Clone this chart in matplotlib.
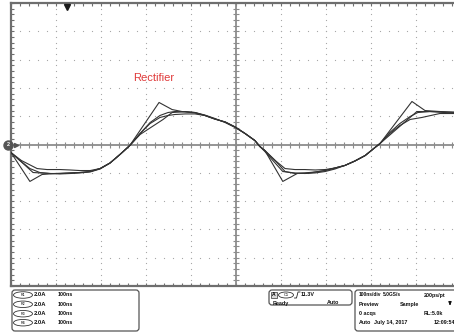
import numpy as np
import matplotlib
matplotlib.use("Agg")
import matplotlib.pyplot as plt
from matplotlib.patches import FancyBboxPatch, Ellipse, Rectangle

# --- reference waveforms R1..R4 (time in ns, current in A), 100ns/div, 2.0A/div ---
r1_t = [-500, -458, -431, -402, -369, -347, -324, -302, -280, -258, -236, -171, -142, -120,
        -91, -69, -47, -24, -2, 20, 42, 53, 64, 104, 136, 164, 198, 220, 242, 264, 287,
        309, 320, 391, 420, 453, 500]
r1_i = [-0.57, -2.61, -2.12, -2.05, -2.01, -1.98, -1.91, -1.70, -1.31, -0.71, -0.07, 2.97,
        2.47, 2.33, 2.26, 2.05, 1.80, 1.59, 1.24, 0.78, 0.28, -0.14, -0.42, -2.61, -2.05,
        -2.01, -1.84, -1.66, -1.48, -1.17, -0.78, -0.21, 0.07, 3.04, 2.40, 2.33, 2.26]

r2_t = [-500, -477, -442, -420, -391, -369, -347, -324, -302, -280, -258, -236, -213, -191,
        -169, -151, -136, -113, -91, -69, -47, -24, -2, 20, 42, 53, 64, 87, 109, 131, 153,
        176, 198, 220, 242, 264, 287, 309, 320, 342, 364, 387, 413, 453, 500]
r2_i = [-0.57, -1.13, -1.70, -1.77, -1.77, -1.80, -1.84, -1.84, -1.70, -1.31, -0.71, -0.07,
        0.78, 1.48, 1.91, 2.05, 2.12, 2.16, 2.16, 2.05, 1.80, 1.59, 1.24, 0.78, 0.28, -0.14,
        -0.42, -1.13, -1.70, -1.77, -1.77, -1.80, -1.77, -1.66, -1.48, -1.17, -0.78, -0.21,
        0.07, 0.78, 1.34, 1.77, 1.91, 2.19, 2.19]

r3_t = [-500, -451, -413, -391, -369, -347, -324, -302, -280, -258, -236, -213, -162, -142,
        -113, -91, -69, -47, -24, -2, 20, 42, 53, 64, 104, 131, 153, 176, 198, 220, 242,
        264, 287, 309, 320, 402, 431, 464, 500]
r3_i = [-0.57, -1.98, -2.05, -2.08, -2.05, -2.01, -1.94, -1.73, -1.31, -0.71, -0.07, 0.71,
        1.77, 2.26, 2.33, 2.26, 2.08, 1.84, 1.55, 1.20, 0.78, 0.28, -0.14, -0.49, -1.91,
        -2.01, -2.05, -2.01, -1.91, -1.73, -1.48, -1.17, -0.78, -0.21, 0.07, 2.33, 2.33,
        2.30, 2.26]

r4_t = [-500, -480, -458, -436, -413, -391, -369, -347, -324, -302, -280, -258, -236, -213,
        -191, -169, -151, -136, -113, -91, -69, -47, -24, -2, 20, 42, 53, 64, 87, 109, 131,
        153, 176, 198, 220, 242, 264, 287, 309, 320, 342, 364, 387, 404, 431, 464, 500]
r4_i = [-0.57, -1.13, -1.70, -1.98, -2.05, -2.05, -2.01, -1.98, -1.91, -1.70, -1.31, -0.71,
        -0.07, 0.78, 1.55, 2.05, 2.26, 2.33, 2.30, 2.23, 2.05, 1.80, 1.59, 1.24, 0.78, 0.28,
        -0.14, -0.42, -1.13, -1.91, -2.05, -2.01, -1.94, -1.84, -1.66, -1.48, -1.17, -0.78,
        -0.21, 0.07, 0.85, 1.48, 1.98, 2.26, 2.33, 2.26, 2.19]

ref_labels = ["R1", "R2", "R3", "R4"]
ref_scale = ["2.0A", "2.0A", "2.0A", "2.0A"]
ref_time = ["100ns", "100ns", "100ns", "100ns"]
trigger_pos = -376   # ns, marker at top of screen
title = "Rectifier"

FONT = "Liberation Sans"
GRID = "#a8a8a8"
EDGE = "#6e6e6e"
TRACE = "#333333"

fig = plt.figure(figsize=(4.54, 3.32), dpi=100)
fig.patch.set_facecolor("white")

# graticule: 10 x 10 divisions, right edge runs past the picture
ax = fig.add_axes([11 / 454, 1 - 286 / 332, 450 / 454, 283 / 332])
ax.set_xlim(-500, 500)
ax.set_ylim(-10, 10)
ax.set_facecolor("white")
for side in ["left", "top", "bottom"]:
    ax.spines[side].set_color(EDGE)
    ax.spines[side].set_linewidth(1.6)
ax.spines["right"].set_visible(False)
ax.set_xticks(np.arange(-500, 501, 20))
ax.set_yticks(np.arange(-10, 10.01, 0.4))
ax.tick_params(direction="in", length=2.5, width=0.8, color=EDGE,
               top=True, bottom=True, left=True, right=False,
               labelbottom=False, labelleft=False)

# dotted grid
minor_x = np.arange(-500, 501, 20)
minor_y = np.arange(-10, 10.01, 0.4)
for gx in range(-400, 401, 100):
    if gx != 0:
        ax.plot(np.full(len(minor_y), gx), minor_y, ls="none", marker="s", ms=0.8,
                mew=0, color=GRID, zorder=1)
for gy in range(-8, 9, 2):
    if gy != 0:
        ax.plot(minor_x, np.full(len(minor_x), gy), ls="none", marker="s", ms=0.8,
                mew=0, color=GRID, zorder=1)

# centre cross with tick marks
ax.axhline(0, color="#8c8c8c", lw=1.3, zorder=2)
ax.axvline(0, color="#8c8c8c", lw=1.3, zorder=2)
ax.plot(minor_x, np.zeros(len(minor_x)), ls="none", marker="|", ms=4, mew=0.8,
        color="#8c8c8c", zorder=2)
ax.plot(np.zeros(len(minor_y)), minor_y, ls="none", marker="_", ms=4, mew=0.8,
        color="#8c8c8c", zorder=2)

# traces
for t, i in [(r1_t, r1_i), (r2_t, r2_i), (r3_t, r3_i), (r4_t, r4_i)]:
    ax.plot(t, i, color=TRACE, lw=0.8, zorder=3)

# trigger position and channel ground markers
ax.plot(trigger_pos, 9.75, marker="v", ms=4, color="#1a1a1a", clip_on=False, zorder=5)
ax.plot(-507, 0, marker="o", ms=6.5, color="#555555", clip_on=False, zorder=5)
ax.text(-507, 0, "2", color="white", fontsize=4, fontweight="bold", ha="center",
        va="center", family=FONT, zorder=6, clip_on=False)
ax.plot(-488, 0, marker=">", ms=3, color="#555555", clip_on=False, zorder=5)

fig.text(133 / 454, 1 - 78 / 332, title, color="#e03a3a", fontsize=8, family=FONT,
         ha="left", va="center")

# status panel drawn in pixel coordinates
p = fig.add_axes([0, 0, 1, 1])
p.set_xlim(0, 454)
p.set_ylim(332, 0)
p.axis("off")

def box(x0, y0, w, h):
    p.add_patch(FancyBboxPatch((x0, y0), w, h, boxstyle="round,pad=0,rounding_size=3",
                               fc="white", ec="#555555", lw=0.9))

def label(x, y, s, size=3.9, ha="left"):
    p.text(x, y, s, fontsize=size, fontweight="bold", family=FONT, color="#111111",
           ha=ha, va="center")

box(12, 290, 127, 41)
rows = [295, 304.3, 313.7, 322.7]
for y, name, sc, tb in zip(rows, ref_labels, ref_scale, ref_time):
    p.add_patch(Ellipse((23, y), 19, 6.5, fc="white", ec="#333333", lw=0.6))
    p.text(23, y, name, fontsize=2.6, family=FONT, ha="center", va="center")
    label(34, y, sc, size=4.2)
    label(58, y, tb)

box(269, 290, 83, 15)
p.add_patch(Rectangle((270.5, 291.5), 6, 6, fc="#d8d8d8", ec="#333333", lw=0.5))
p.text(273.5, 294.7, "A", fontsize=3.6, fontweight="bold", family=FONT, ha="center",
       va="center")
p.add_patch(Ellipse((286, 295), 15, 6, fc="white", ec="#333333", lw=0.6))
p.text(286, 295, "C1", fontsize=2.8, family=FONT, ha="center", va="center")
p.plot([294.5, 296.5, 298, 300], [298, 298, 292, 292], color="#222222", lw=0.6)
label(301, 295, "11.3V")
label(273, 303, "Ready")
label(327, 303, "Auto")

box(355, 290, 120, 41)
label(359, rows[0], "100ns/div", size=3.5)
label(383, rows[0], "5.0GS/s", size=3.5)
label(424, rows[0], "200ps/pt")
label(359, rows[1], "Preview")
label(400, rows[1], "Sample")
p.annotate("", xy=(450, 308), xytext=(450, 301),
           arrowprops=dict(arrowstyle="-|>", color="#111111", lw=0.9, mutation_scale=4))
label(359, rows[2], "0 acqs")
label(424, rows[2], "RL:5.0k")
label(359, rows[3], "Auto")
label(374, rows[3], "July 14, 2017")
label(434, rows[3], "12:09:54")

fig.savefig("out.png", dpi=100)
